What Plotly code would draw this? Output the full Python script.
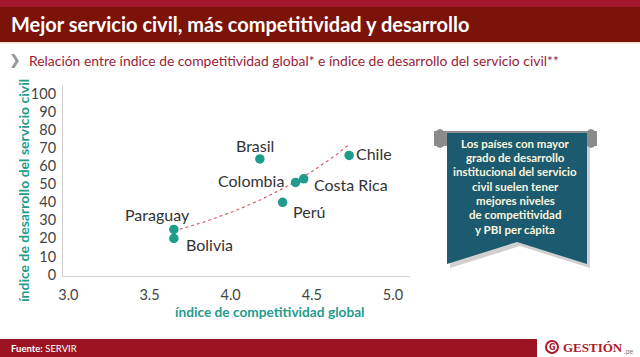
import numpy as np
import plotly.graph_objects as go

# ---- data ----
countries = ["Paraguay", "Bolivia", "Brasil", "Colombia", "Costa Rica", "Perú", "Chile"]
competitividad = [3.65, 3.65, 4.18, 4.40, 4.45, 4.32, 4.73]
desarrollo = [25, 20, 64, 51, 53, 40, 66]
x_ticks = [3.0, 3.5, 4.0, 4.5, 5.0]
x_ticktext = ["3.0", "3.5", "4.0", "4.5", "5.0"]
y_ticks = [0, 10, 20, 30, 40, 50, 60, 70, 80, 90, 100]

title = "Mejor servicio civil, más competitividad y desarrollo"
subtitle = "Relación entre índice de competitividad global* e índice de desarrollo del servicio civil**"
x_title = "índice de competitividad global"
y_title = "índice de desarrollo del servicio civil"
banner_lines = ["Los países con mayor", "grado de desarrollo", "institucional del servicio",
                "civil suelen tener", "mejores niveles", "de competitividad", "y PBI per cápita"]

W, H = 640, 357
def px(x):
    return x / W
def py(y):
    return (H - y) / H

# label placement styles (anchor, xshift, yshift)
label_style = {
    "Paraguay": ("center", -16, 15),
    "Bolivia": ("left", 10, -6),
    "Brasil": ("center", -5, 13),
    "Colombia": ("right", -10, 2),
    "Costa Rica": ("left", 8, -6),
    "Perú": ("left", 8, -9),
    "Chile": ("left", 5, 2),
}

TEAL = "#1f9c8c"
FONT = "Lato"

# exponential trendline fitted from the data
b, a = np.polyfit(competitividad, np.log(desarrollo), 1)
tx = np.linspace(min(competitividad), max(competitividad), 60)
ty = np.exp(a + b * tx)

fig = go.Figure()
fig.add_trace(go.Scatter(x=tx, y=ty, mode="lines",
                         line=dict(color="#d4606e", width=1.2, dash="dot"),
                         hoverinfo="skip", showlegend=False))
fig.add_trace(go.Scatter(x=competitividad, y=desarrollo, mode="markers",
                         marker=dict(color=TEAL, size=9.5), showlegend=False))

ann = []
for c, xv, yv in zip(countries, competitividad, desarrollo):
    anc, xs, ys = label_style[c]
    ann.append(dict(x=xv, y=yv, xref="x", yref="y", text=c, showarrow=False,
                    xanchor=anc, yanchor="middle", xshift=xs, yshift=ys,
                    font=dict(family=FONT, size=16, color="#333333")))

# header
shapes = [
    dict(type="rect", xref="paper", yref="paper", x0=0, x1=1, y0=py(7), y1=1,
         fillcolor="#a3182c", line_width=0, layer="below"),
    dict(type="rect", xref="paper", yref="paper", x0=0, x1=1, y0=py(42), y1=py(7),
         fillcolor="#7c1309", line_width=0, layer="below"),
    dict(type="rect", xref="paper", yref="paper", x0=0, x1=1, y0=py(43.5), y1=py(42),
         fillcolor="#f3e2cc", line_width=0, layer="below"),
    # chevron
    dict(type="path", xref="paper", yref="paper",
         path=f"M{px(11)},{py(54)} L{px(14.5)},{py(54)} L{px(19)},{py(61)} L{px(14.5)},{py(68)} L{px(11)},{py(68)} L{px(15.5)},{py(61)} Z",
         fillcolor="#9a9a9a", line_width=0),
    # footer
    dict(type="rect", xref="paper", yref="paper", x0=0, x1=px(537), y0=0, y1=py(339),
         fillcolor="#9c1421", line_width=0, layer="below"),
]

# banner shadow, rods, banner
def poly(pts, dx=0, dy=0):
    s = "M" + " L".join(f"{px(x+dx)},{py(y+dy)}" for x, y in pts) + " Z"
    return s
banner = [(447, 133), (587, 133), (587, 264), (517, 242), (447, 264)]
shapes.append(dict(type="path", xref="paper", yref="paper", path=poly(banner, 3, 4),
                   fillcolor="rgba(120,120,120,0.35)", line_width=0))
shapes.append(dict(type="rect", xref="paper", yref="paper", x0=px(434), x1=px(597),
                   y0=py(146), y1=py(131), fillcolor="#8f8f8f", line_width=0))
for cx in (440, 591):
    shapes.append(dict(type="circle", xref="paper", yref="paper", x0=px(cx-6), x1=px(cx+6),
                       y0=py(148), y1=py(129), fillcolor="#8a8a8a", line_width=0))
shapes.append(dict(type="path", xref="paper", yref="paper", path=poly(banner),
                   fillcolor="#1c5a6f", line_width=0))
# logo icon ring
shapes.append(dict(type="circle", xref="paper", yref="paper", x0=px(546), x1=px(558),
                   y0=py(353), y1=py(341), line=dict(color="#ad1a2c", width=2)))

ann.append(dict(x=px(9), y=py(24), xref="paper", yref="paper", text=f"<b>{title}</b>",
                showarrow=False, xanchor="left", yanchor="middle",
                font=dict(family=FONT, size=20, color="white")))
ann.append(dict(x=px(27), y=py(61), xref="paper", yref="paper", text=subtitle,
                showarrow=False, xanchor="left", yanchor="middle",
                font=dict(family=FONT, size=13.9, color="#9c1c36")))
ann.append(dict(x=px(270), y=py(311), xref="paper", yref="paper", text=f"<b>{x_title}</b>",
                showarrow=False, xanchor="center", yanchor="middle",
                font=dict(family=FONT, size=13.7, color=TEAL)))
ann.append(dict(x=px(23), y=py(191), xref="paper", yref="paper", text=f"<b>{y_title}</b>",
                showarrow=False, xanchor="center", yanchor="middle", textangle=-90,
                font=dict(family=FONT, size=14, color=TEAL)))
for i, line in enumerate(banner_lines):
    ann.append(dict(x=px(515), y=py(143.3 + i * 14.33), xref="paper", yref="paper",
                    text=f"<b>{line}</b>", showarrow=False, xanchor="center", yanchor="middle",
                    font=dict(family=FONT, size=11.5, color="#fbf6df")))
ann.append(dict(x=px(9), y=py(348.5), xref="paper", yref="paper",
                text="<b>Fuente:</b> SERVIR", showarrow=False, xanchor="left", yanchor="middle",
                font=dict(family=FONT, size=9.5, color="white")))
ann.append(dict(x=px(561), y=py(347), xref="paper", yref="paper",
                text="<b>GESTIÓN</b>", showarrow=False, xanchor="left", yanchor="middle",
                font=dict(family="Liberation Serif", size=13, color="#ad1a2c")))
ann.append(dict(x=px(622), y=py(351), xref="paper", yref="paper",
                text=".pe", showarrow=False, xanchor="left", yanchor="middle",
                font=dict(family=FONT, size=7, color="#777777")))
ann.append(dict(x=px(552.5), y=py(347), xref="paper", yref="paper",
                text="<b>G</b>", showarrow=False, xanchor="center", yanchor="middle",
                font=dict(family="DejaVu Sans", size=8, color="#ad1a2c")))

fig.update_layout(
    width=W, height=H, margin=dict(l=0, r=0, t=0, b=0),
    paper_bgcolor="white", plot_bgcolor="white",
    shapes=shapes, annotations=ann, showlegend=False,
    xaxis=dict(domain=[px(63), px(410)], range=[2.967, 5.105], automargin=False,
               tickvals=x_ticks, ticktext=x_ticktext, showgrid=False, zeroline=False,
               showline=True, linecolor="#d0d0d0", linewidth=1, ticks="",
               ticklabelstandoff=6,
               tickfont=dict(family=FONT, size=14.5, color="#444444")),
    yaxis=dict(domain=[py(276), py(85)], range=[-0.83, 104.99], automargin=False,
               tickvals=y_ticks, showgrid=False, zeroline=False,
               showline=True, linecolor="#d0d0d0", linewidth=1, ticks="",
               ticklabelstandoff=3,
               tickfont=dict(family=FONT, size=14.5, color="#444444")),
)

fig.write_html("out.html", config={"displayModeBar": False},
               post_script="document.body.style.margin='0';document.body.style.overflow='hidden';")
